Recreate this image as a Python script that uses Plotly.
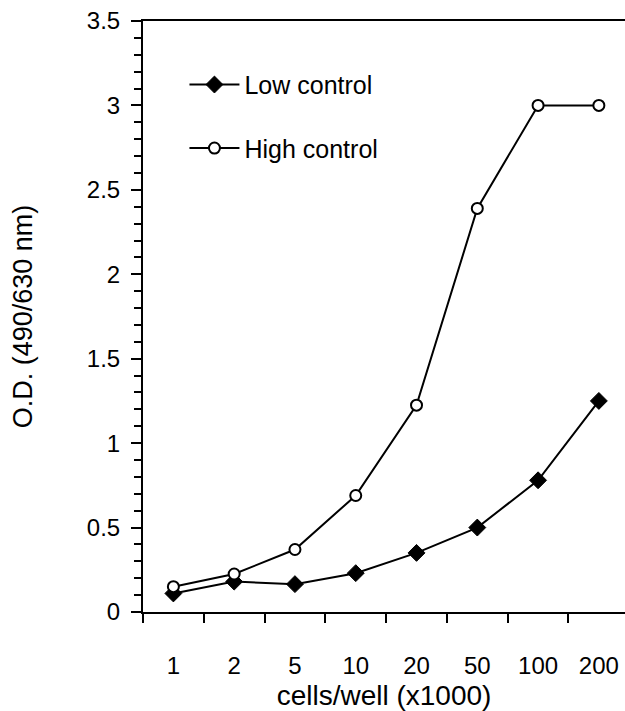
import plotly.graph_objects as go

cells = ["1", "2", "5", "10", "20", "50", "100", "200"]
low_control = [0.11, 0.18, 0.165, 0.23, 0.35, 0.50, 0.78, 1.25]
high_control = [0.15, 0.225, 0.37, 0.69, 1.225, 2.39, 3.0, 3.0]

FONT = "Liberation Sans, Arial, sans-serif"

fig = go.Figure()
fig.add_trace(go.Scatter(
    x=cells, y=low_control, name="Low control", mode="lines+markers",
    line=dict(color="black", width=2),
    marker=dict(symbol="diamond", size=13, color="black", line=dict(color="black", width=1)),
    legendgroup="low",
))
fig.add_trace(go.Scatter(
    x=cells, y=high_control, name="High control", mode="lines+markers",
    line=dict(color="black", width=2),
    marker=dict(symbol="circle", size=11, color="white", line=dict(color="black", width=2)),
    legendgroup="high",
))

fig.update_layout(
    width=625, height=711,
    margin=dict(l=143, r=0, t=21, b=99),
    paper_bgcolor="white", plot_bgcolor="white",
    font=dict(family=FONT, color="black", size=24),
    showlegend=True,
    legend=dict(
        x=0.086, y=0.931, xanchor="left", yanchor="top",
        bgcolor="rgba(0,0,0,0)", borderwidth=0,
        font=dict(size=25, family=FONT, color="black"),
        tracegroupgap=28, traceorder="grouped", itemwidth=50,
    ),
    xaxis=dict(
        type="category", range=[-0.5, 7.43],
        showline=True, linecolor="black", linewidth=2, mirror=True,
        ticks="outside", ticklen=9, tickwidth=1.5, tickcolor="black",
        tickson="boundaries", showgrid=False, zeroline=False,
        tickfont=dict(size=24, family=FONT), ticklabelstandoff=31,
        title=dict(text="cells/well (x1000)", font=dict(size=28, family=FONT), standoff=12),
    ),
    yaxis=dict(
        range=[0, 3.5], tickmode="linear", tick0=0, dtick=0.5,
        showline=True, linecolor="black", linewidth=2,
        ticks="outside", ticklen=10, tickwidth=1.5, tickcolor="black",
        minor=dict(ticks="outside", tick0=0, dtick=0.1, ticklen=7, tickwidth=1.5,
                   tickcolor="black", showgrid=False),
        showgrid=False, zeroline=False,
        tickfont=dict(size=24, family=FONT), ticklabelstandoff=6,
        title=dict(text="O.D. (490/630 nm)", font=dict(size=27, family=FONT), standoff=46),
    ),
)

fig.write_html("out.html")
